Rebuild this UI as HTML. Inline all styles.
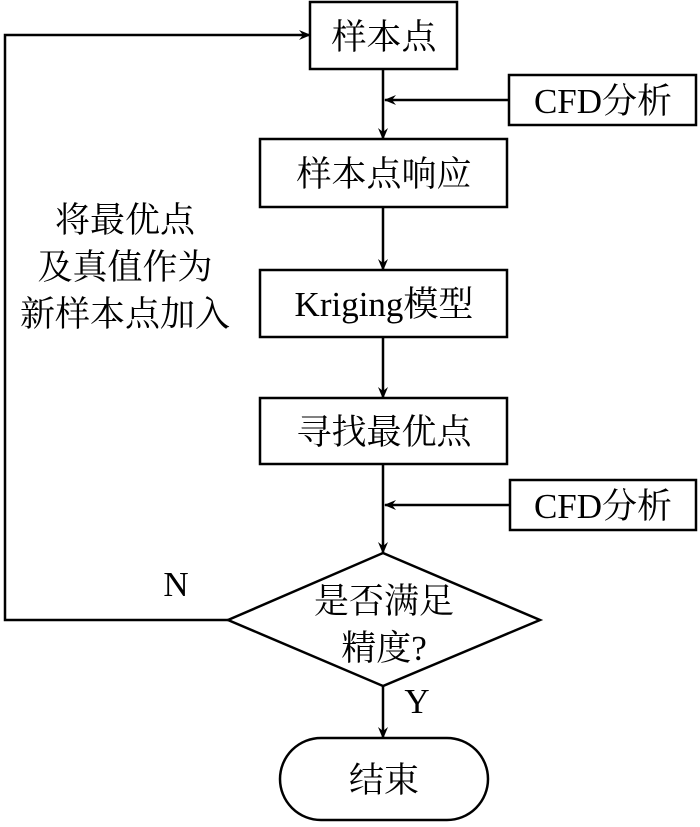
<!DOCTYPE html>
<html><head><meta charset="utf-8"><style>
body{margin:0;background:#fff}
text{font-family:"Liberation Serif","Noto Serif CJK SC",serif;font-size:35px;fill:#000}
</style></head><body>
<svg width="700" height="822" viewBox="0 0 700 822" xmlns="http://www.w3.org/2000/svg">
<defs><marker id="a" markerWidth="12" markerHeight="10" refX="11" refY="5" orient="auto" markerUnits="userSpaceOnUse"><path d="M0,0 L12,5 L0,10 L4,5 z" fill="#000"/></marker></defs>
<g fill="none" stroke="#000" stroke-width="2.5">
<rect x="310" y="2" width="147" height="67"/>
<rect x="509" y="75" width="187" height="50"/>
<rect x="260" y="139" width="247" height="68"/>
<rect x="260" y="270" width="247" height="67"/>
<rect x="260" y="398" width="247" height="66"/>
<rect x="510" y="480" width="186" height="50"/>
<polygon points="383,553 540,620 383,686 228,620"/>
<rect x="280" y="738" width="208" height="82" rx="41"/>
<path d="M383,69 V139" marker-end="url(#a)"/>
<path d="M509,100 H385" marker-end="url(#a)"/>
<path d="M383,207 V270" marker-end="url(#a)"/>
<path d="M383,337 V398" marker-end="url(#a)"/>
<path d="M383,464 V553" marker-end="url(#a)"/>
<path d="M510,505 H385" marker-end="url(#a)"/>
<path d="M383,686 V738" marker-end="url(#a)"/>
<path d="M228,620 H5 V35 H310" marker-end="url(#a)"/>
</g>
<g text-anchor="middle">
<text x="384" y="49">样本点</text>
<text x="603" y="113" font-size="33">CFD分析</text>
<text x="384" y="186">样本点响应</text>
<text x="384" y="316">Kriging模型</text>
<text x="384" y="444">寻找最优点</text>
<text x="603" y="518" font-size="33">CFD分析</text>
<text x="384" y="613">是否满足</text>
<text x="384" y="660">精度?</text>
<text x="384" y="792">结束</text>
<text x="125" y="232">将最优点</text>
<text x="125" y="279">及真值作为</text>
<text x="125" y="326">新样本点加入</text>
<text x="176" y="596" font-size="30">N</text>
<text x="417" y="713" font-size="30">Y</text>
</g>
</svg>
</body></html>
